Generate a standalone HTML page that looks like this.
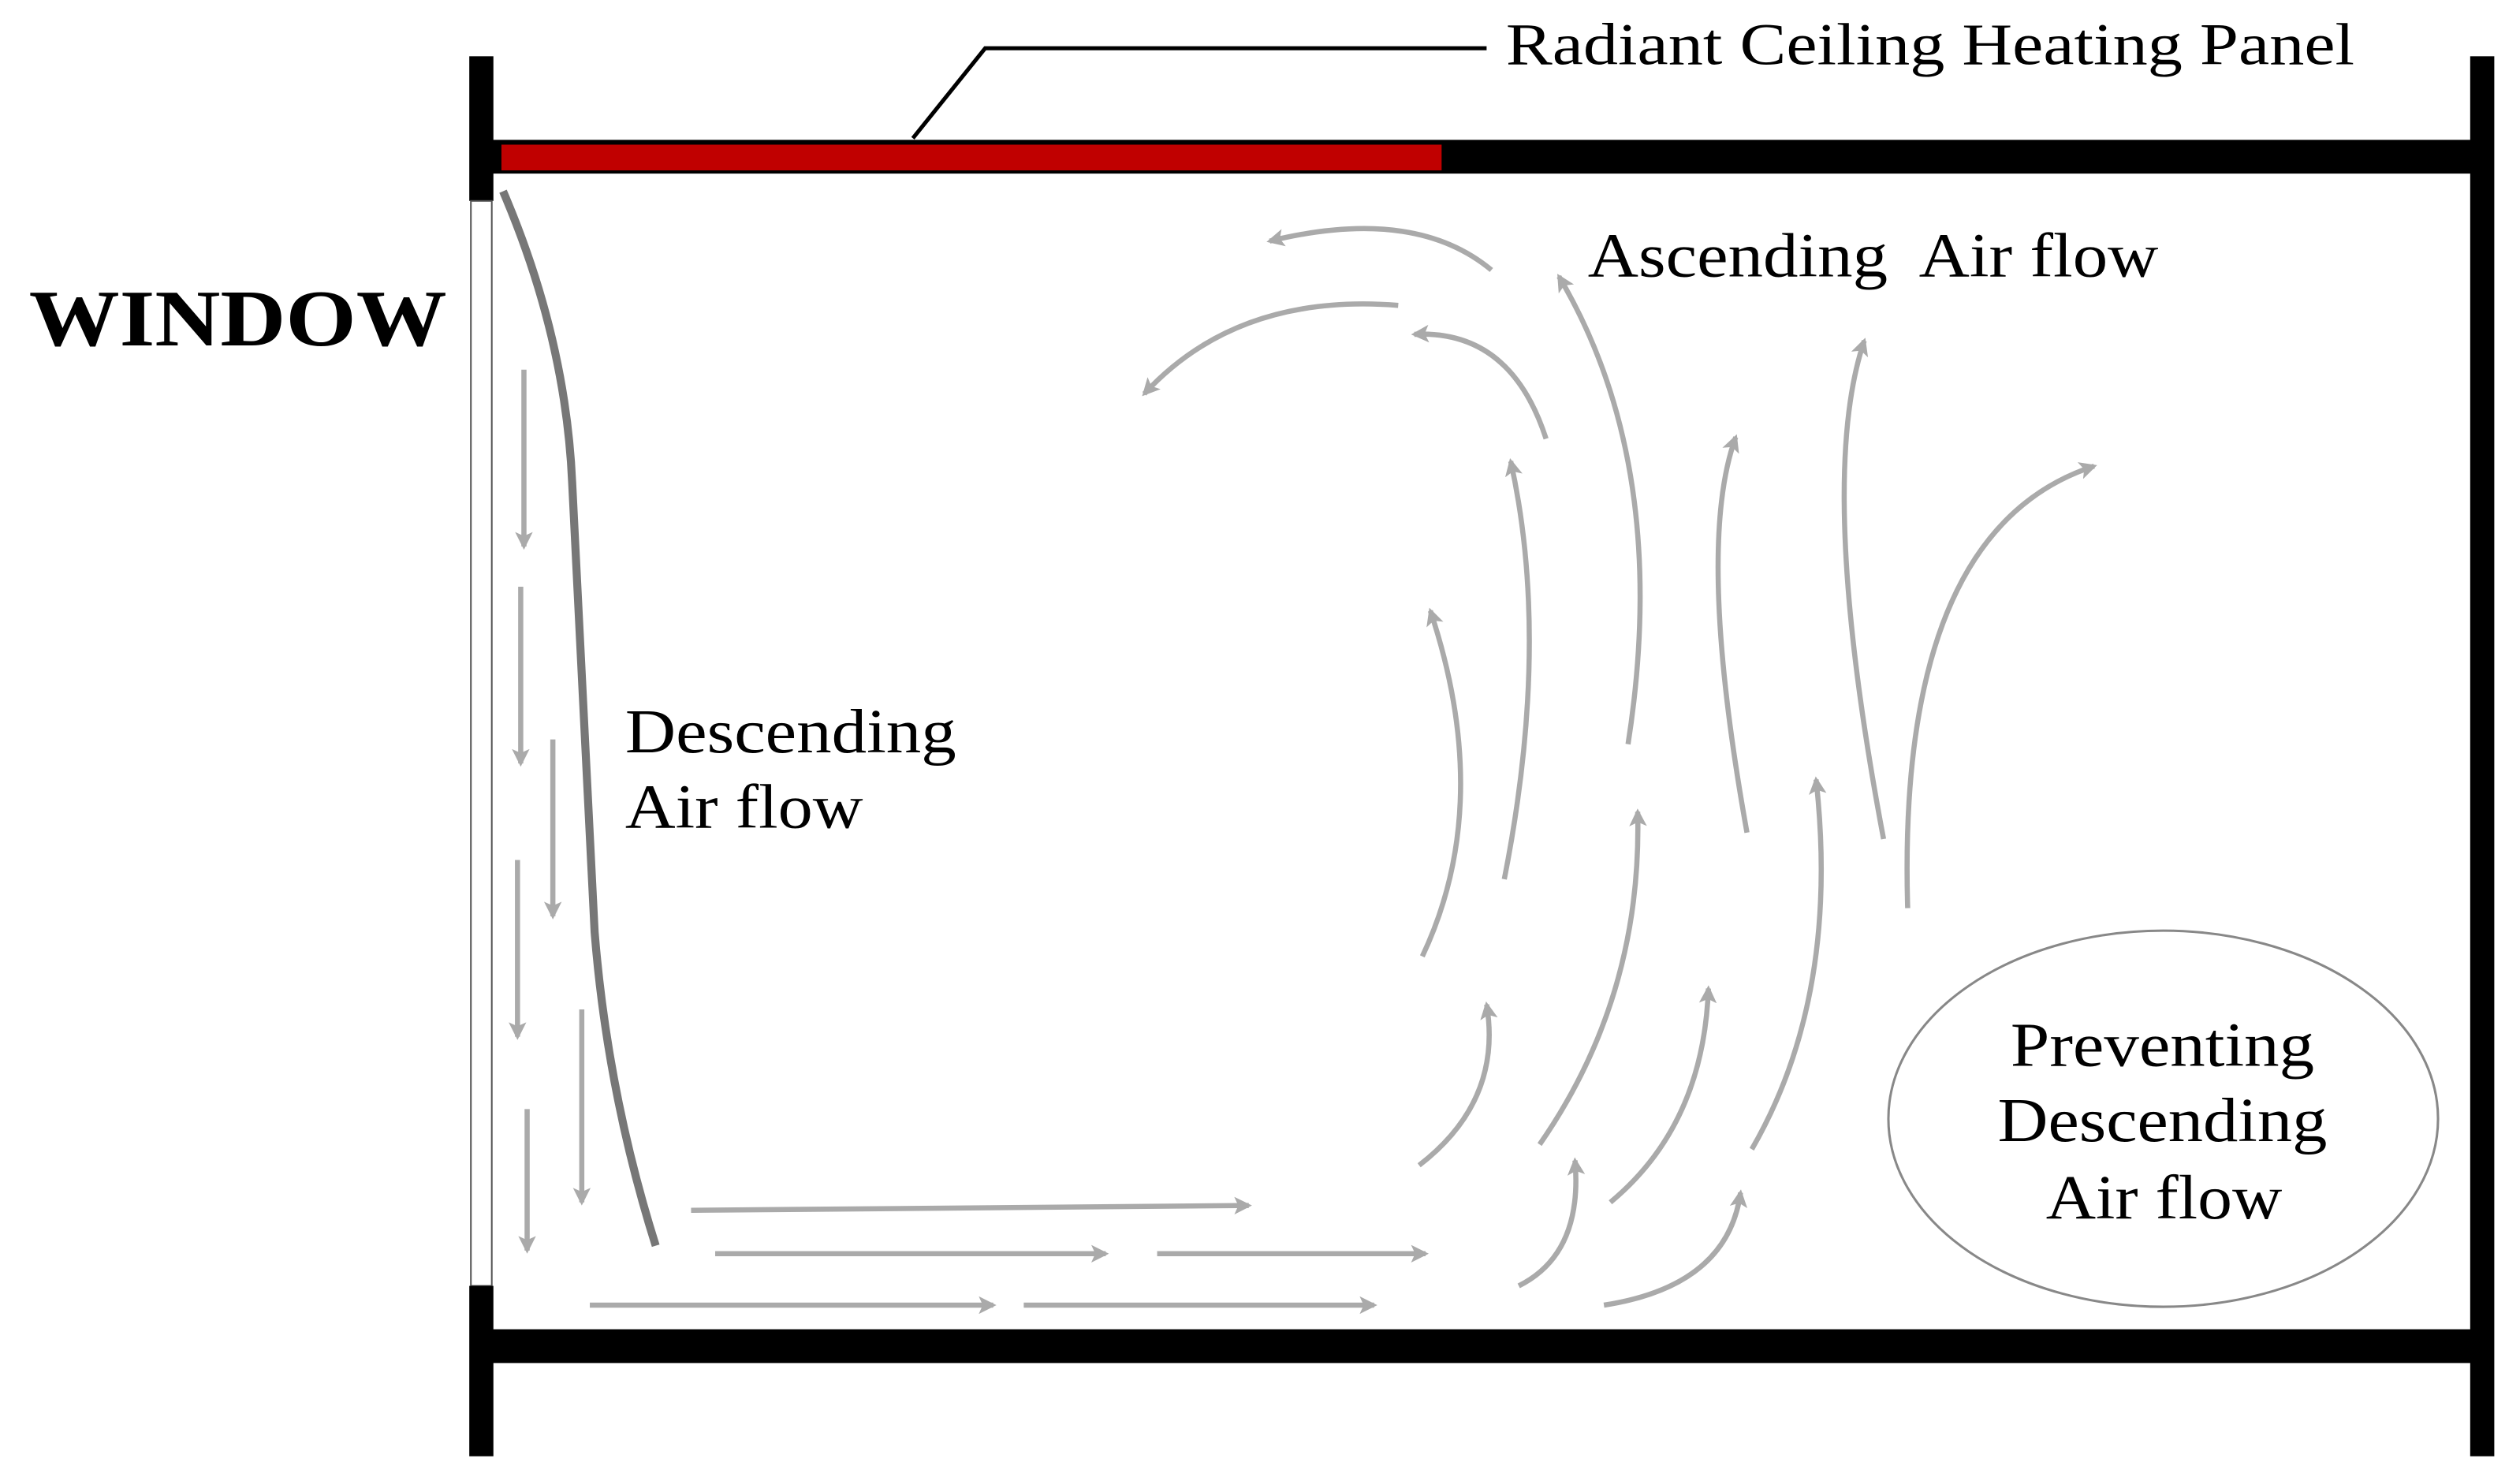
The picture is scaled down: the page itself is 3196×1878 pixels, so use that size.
<!DOCTYPE html>
<html><head><meta charset="utf-8"><style>
html,body{margin:0;padding:0;background:#fff;}
svg{display:block;}
text{font-family:"Liberation Serif",serif;fill:#000;}
</style></head><body>
<svg width="3196" height="1878" viewBox="0 0 1568 921.4" preserveAspectRatio="none" xmlns="http://www.w3.org/2000/svg">
<defs>
<marker id="a" markerWidth="12" markerHeight="12" refX="9" refY="6" orient="auto" markerUnits="userSpaceOnUse">
<path d="M0,0.5 L11,6 L0,11.5 L2.5,6 Z" fill="#aaa"/>
</marker>
</defs>
<rect width="1568" height="921.4" fill="#fff"/>
<rect x="292" y="35" width="15" height="90" fill="#000"/>
<rect x="293" y="125" width="13" height="675" fill="#fff" stroke="#555" stroke-width="1"/>
<rect x="292" y="800" width="15" height="106" fill="#000"/>
<rect x="1537" y="35" width="15" height="871" fill="#000"/>
<rect x="300" y="87" width="1245" height="21" fill="#000"/>
<rect x="312" y="90" width="585" height="16" fill="#c00000"/>
<rect x="300" y="827" width="1245" height="21" fill="#000"/>
<polyline points="568,86 613,30 925,30" fill="none" stroke="#000" stroke-width="2.5"/>
<text x="937" y="40" font-size="37" textLength="528" lengthAdjust="spacingAndGlyphs">Radiant Ceiling Heating Panel</text>
<text x="18" y="215" font-size="50" font-weight="bold" textLength="260" lengthAdjust="spacingAndGlyphs">WINDOW</text>
<path d="M313,119 Q352,210 356,300 L370,580 Q378,680 408,775" fill="none" stroke="#777" stroke-width="5"/>
<text x="389" y="468" font-size="39" textLength="206" lengthAdjust="spacingAndGlyphs">Descending</text>
<text x="389" y="515" font-size="39" textLength="148" lengthAdjust="spacingAndGlyphs">Air flow</text>
<text x="988" y="172" font-size="39" textLength="355" lengthAdjust="spacingAndGlyphs">Ascending&#160; Air flow</text>
<ellipse cx="1346" cy="696" rx="171" ry="117" fill="none" stroke="#888" stroke-width="1.5"/>
<text x="1251" y="663" font-size="39" textLength="189" lengthAdjust="spacingAndGlyphs">Preventing</text>
<text x="1243" y="710" font-size="39" textLength="205" lengthAdjust="spacingAndGlyphs">Descending</text>
<text x="1273" y="758" font-size="39" textLength="147" lengthAdjust="spacingAndGlyphs">Air flow</text>
<g fill="none" stroke="#aaa" stroke-width="3.2" marker-end="url(#a)">
<path d="M326,230 L326,340"/>
<path d="M324,365 L324,475"/>
<path d="M344,460 L344,570"/>
<path d="M322,535 L322,645"/>
<path d="M362,628 L362,748"/>
<path d="M328,690 L328,778"/>
<path d="M430,753 L777,750"/>
<path d="M445,780 L688,780"/>
<path d="M720,780 L887,780"/>
<path d="M367,812 L618,812"/>
<path d="M637,812 L855,812"/>
<path d="M945,800 Q985,780 980,722"/>
<path d="M998,812 Q1075,800 1083,742"/>
<path d="M1002,748 Q1060,700 1063,615"/>
<path d="M958,712 Q1022,620 1019,505"/>
<path d="M883,725 Q935,685 925,625"/>
<path d="M1090,715 Q1145,620 1130,485"/>
<path d="M885,595 Q930,500 890,380"/>
<path d="M936,547 Q965,400 940,287"/>
<path d="M1013,463 Q1040,290 970,172"/>
<path d="M1087,518 Q1055,340 1080,272"/>
<path d="M1172,522 Q1130,300 1160,212"/>
<path d="M1187,565 Q1180,330 1303,290"/>
<path d="M962,273 Q940,205 880,208"/>
<path d="M928,168 Q880,128 790,150"/>
<path d="M870,190 Q770,182 712,245"/>
</g>
</svg>
</body></html>
